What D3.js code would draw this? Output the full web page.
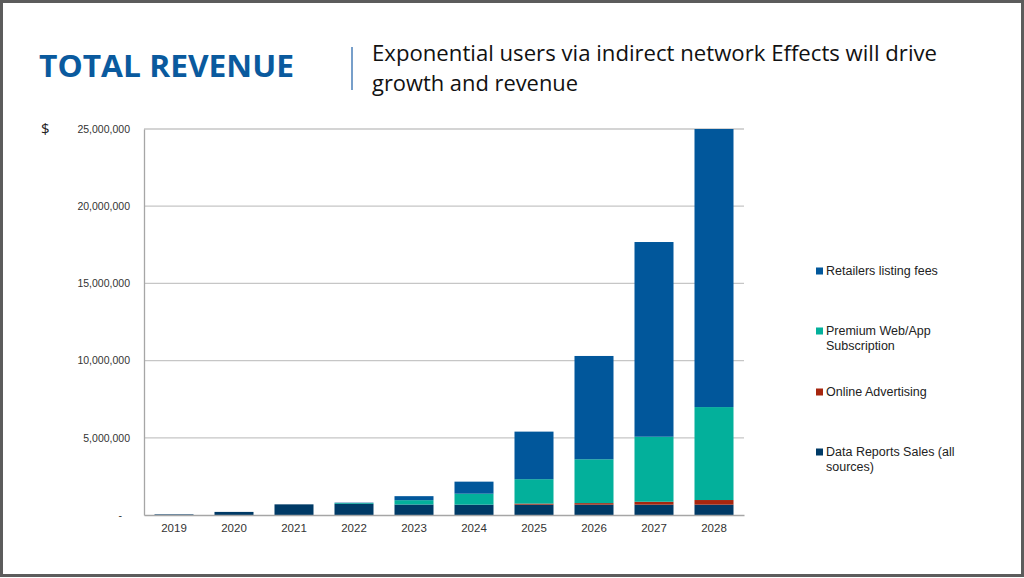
<!DOCTYPE html>
<html>
<head>
<meta charset="utf-8">
<script src="https://cdn.jsdelivr.net/npm/d3@7"></script>
<style>
  body { margin: 0; background: #fff; }
  svg { display: block; }
</style>
</head>
<body>
<div id="chart"></div>
<script>
const years = ["2019", "2020", "2021", "2022", "2023", "2024", "2025", "2026", "2027", "2028"];
const seriesNames = ["Data Reports Sales (all sources)", "Online Advertising", "Premium Web/App Subscription", "Retailers listing fees"];
const dataReports = [40000, 200000, 690000, 720000, 680000, 670000, 670000, 670000, 670000, 670000];
const onlineAdvertising = [0, 0, 0, 0, 0, 0, 70000, 100000, 190000, 300000];
const premiumSubscription = [0, 0, 0, 50000, 280000, 710000, 1580000, 2840000, 4210000, 6020000];
const retailersFees = [0, 0, 0, 30000, 260000, 780000, 3080000, 6690000, 12610000, 18010000];
const yTicks = [0, 5000000, 10000000, 15000000, 20000000, 25000000];
const legendLines = [["Retailers listing fees"], ["Premium Web/App", "Subscription"], ["Online Advertising"], ["Data Reports Sales (all", "sources)"]];

const colors = ["#003a66", "#a6260f", "#03b09b", "#01579b"];
const legendColors = ["#01579b", "#03b09b", "#a6260f", "#003a66"];

const width = 1024, height = 578;
const svg = d3.select("#chart").append("svg")
    .attr("width", width)
    .attr("height", height);

svg.append("rect")
    .attr("x", 1.5).attr("y", 1.5)
    .attr("width", width - 3).attr("height", height - 4)
    .attr("fill", "#fff")
    .attr("stroke", "#5c5c5c")
    .attr("stroke-width", 3);

// header
svg.append("text")
    .attr("x", 39).attr("y", 77)
    .attr("textLength", 255).attr("lengthAdjust", "spacingAndGlyphs")
    .style("font-family", "Open Sans").style("font-weight", "700")
    .style("font-size", "31px").style("fill", "#0a5a9e")
    .text("TOTAL REVENUE");
svg.append("line")
    .attr("x1", 352).attr("x2", 352).attr("y1", 47).attr("y2", 90)
    .attr("stroke", "#4a7fb8").attr("stroke-width", 1.5);
const sub = svg.append("g")
    .style("font-family", "Open Sans").style("font-size", "21px").style("fill", "#111");
sub.append("text").attr("x", 372).attr("y", 61)
    .attr("textLength", 565).attr("lengthAdjust", "spacingAndGlyphs")
    .text("Exponential users via indirect network Effects will drive");
sub.append("text").attr("x", 372).attr("y", 91)
    .attr("textLength", 206).attr("lengthAdjust", "spacingAndGlyphs")
    .text("growth and revenue");

// chart
const x0 = 144, x1 = 744, yTop = 129, yBottom = 515;
const table = years.map((d, i) => ({
    year: d,
    [seriesNames[0]]: dataReports[i],
    [seriesNames[1]]: onlineAdvertising[i],
    [seriesNames[2]]: premiumSubscription[i],
    [seriesNames[3]]: retailersFees[i]
}));
const stacked = d3.stack().keys(seriesNames)(table);

const xScale = d3.scaleBand().domain(years).range([x0, x1]).paddingInner(0.35).paddingOuter(0.175);
const yScale = d3.scaleLinear().domain([0, 25000000]).range([yBottom, yTop]);

svg.append("g")
    .selectAll("line")
    .data(yTicks.filter(d => d > 0))
    .join("line")
    .attr("x1", x0).attr("x2", x1)
    .attr("y1", d => yScale(d)).attr("y2", d => yScale(d))
    .attr("stroke", "#c6c6c6").attr("stroke-width", 1.3);

const yAxis = d3.axisLeft(yScale).tickValues(yTicks).tickSize(0).tickPadding(14)
    .tickFormat(d => d === 0 ? "-" : d3.format(",")(d));
const yAxisGroup = svg.append("g")
    .attr("transform", `translate(${x0},0)`)
    .call(yAxis);
yAxisGroup.select(".domain").attr("stroke", "#a6a6a6").attr("stroke-width", 1.3);
yAxisGroup.selectAll("text")
    .style("font-family", "Liberation Sans").style("font-size", "10.5px").style("fill", "#333");
yAxisGroup.selectAll(".tick").filter(d => d === 0).select("text").attr("dx", "-8");

svg.append("text")
    .attr("x", 41).attr("y", 134)
    .style("font-family", "Open Sans").style("font-size", "15px").style("fill", "#222")
    .text("$");

svg.append("g")
    .selectAll("g")
    .data(stacked)
    .join("g")
    .attr("fill", (d, i) => colors[i])
    .selectAll("rect")
    .data(d => d)
    .join("rect")
    .attr("x", d => xScale(d.data.year))
    .attr("width", xScale.bandwidth())
    .attr("y", d => yScale(d[1]))
    .attr("height", d => yScale(d[0]) - yScale(d[1]));

const xAxis = d3.axisBottom(xScale).tickSize(0).tickPadding(9);
const xAxisGroup = svg.append("g")
    .attr("transform", `translate(0,${yBottom})`)
    .call(xAxis);
xAxisGroup.select(".domain").attr("stroke", "#a6a6a6").attr("stroke-width", 1.3);
xAxisGroup.selectAll("text")
    .style("font-family", "Liberation Sans").style("font-size", "11.5px").style("fill", "#333");

// legend
const legendY = [275, 335, 396, 456];
const legend = svg.append("g")
    .style("font-family", "Liberation Sans").style("font-size", "12.5px").style("fill", "#222");
legendLines.forEach((lines, i) => {
    legend.append("rect")
        .attr("x", 816).attr("y", legendY[i] - 7.5)
        .attr("width", 7).attr("height", 7)
        .attr("fill", legendColors[i]);
    lines.forEach((t, j) => {
        legend.append("text")
            .attr("x", 826).attr("y", legendY[i] + j * 15)
            .text(t);
    });
});
</script>
</body>
</html>
